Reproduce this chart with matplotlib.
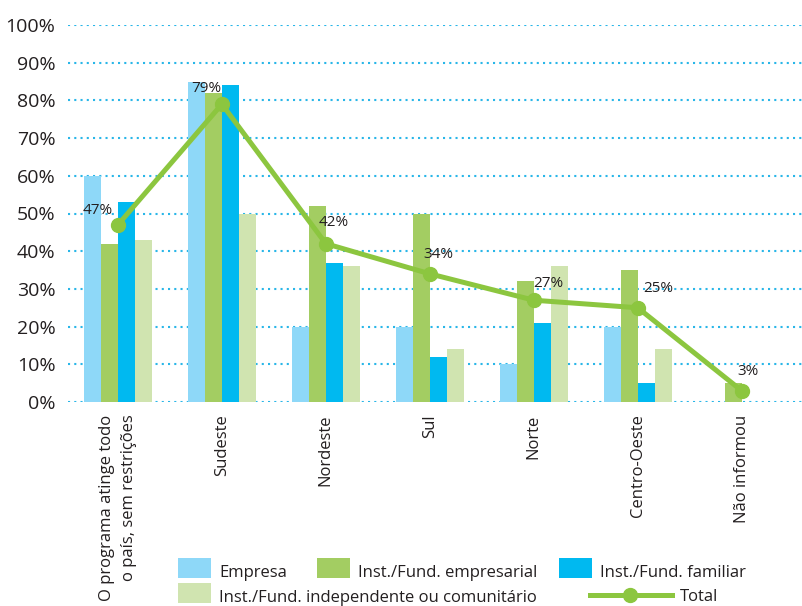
import numpy as np
import matplotlib
matplotlib.use("Agg")
import matplotlib.pyplot as plt
from matplotlib.patches import Rectangle
from matplotlib.lines import Line2D

plt.rcParams['font.family'] = ['Open Sans', 'DejaVu Sans']

regioes = ["O programa atinge todo\no país, sem restrições", "Sudeste", "Nordeste",
           "Sul", "Norte", "Centro-Oeste", "Não informou"]
empresa = [60, 85, 20, 20, 10, 20, 0]
inst_empresarial = [42, 82, 52, 50, 32, 35, 5]
inst_familiar = [53, 84, 37, 12, 21, 5, 0]
inst_independente = [43, 50, 36, 14, 36, 14, 0]
total = [47, 79, 42, 34, 27, 25, 3]

series = [
    ("Empresa", empresa, "#8ed8f8"),
    ("Inst./Fund. empresarial", inst_empresarial, "#a3cd62"),
    ("Inst./Fund. familiar", inst_familiar, "#00b9f0"),
    ("Inst./Fund. independente ou comunitário", inst_independente, "#d0e4b0"),
]
linha_cor = "#8cc63f"
texto_cor = "#231f20"

# label offsets (pixels) for the Total values
rot_off = [(-35, 14), (-31, 16), (-7, 21), (-6, 19), (-1, 17), (6, 19), (-4, 19)]

W, H = 802, 606
fig = plt.figure(figsize=(W / 100, H / 100), dpi=100)
ax = fig.add_axes([68 / W, 1 - 402 / H, (W - 68) / W, (402 - 25) / H])

x = np.arange(len(regioes))
bw = 0.163
for i, (nome, vals, cor) in enumerate(series):
    ax.bar(x + (i - 1.5) * bw, vals, bw, color=cor, linewidth=0, zorder=2)

ax.plot(x, total, color=linha_cor, lw=3.6, marker="o", ms=10, zorder=3, clip_on=False)
for xi, v, (dx, dy) in zip(x, total, rot_off):
    ax.annotate(f"{v}%", (xi, v), xytext=(dx, dy), textcoords="offset pixels",
                ha="left", va="center", fontsize=11, color=texto_cor, zorder=4)

ax.set_xlim(-0.48, 6.58)
ax.set_ylim(0, 100)
ax.set_yticks(range(0, 101, 10))
ax.set_yticklabels([f"{t}%" for t in range(0, 101, 10)], fontsize=14, color=texto_cor)
ax.set_xticks(x)
ax.set_xticklabels(regioes, rotation=90, fontsize=12, color=texto_cor,
                   va="top", ha="center", multialignment="right", linespacing=1.55)
ax.tick_params(axis="both", length=0)
ax.tick_params(axis="y", pad=9)
ax.tick_params(axis="x", pad=9)
ax.grid(axis="y", color="#29b6e8", lw=1.5, linestyle=(0, (1, 2)))
ax.set_axisbelow(True)
for s in ax.spines.values():
    s.set_visible(False)


def px(xp, yp):
    return xp / W, 1 - yp / H


# legend drawn in figure pixels
leg = [
    (178, 558, "Empresa", series[0][2]),
    (317, 558, "Inst./Fund. empresarial", series[1][2]),
    (559, 558, "Inst./Fund. familiar", series[2][2]),
    (178, 583, "Inst./Fund. independente ou comunitário", series[3][2]),
]
for lx, ly, txt, cor in leg:
    x0, y0 = px(lx, ly + 20)
    fig.patches.append(Rectangle((x0, y0), 33 / W, 20 / H, transform=fig.transFigure,
                                 facecolor=cor, edgecolor="none"))
    tx, ty = px(lx + 41, ly + 19)
    fig.text(tx, ty, txt, fontsize=12, color=texto_cor, ha="left", va="baseline")

lx0, ly0 = px(590, 595)
lx1, _ = px(672, 595)
fig.lines.append(Line2D([lx0, lx1], [ly0, ly0], transform=fig.transFigure,
                        color=linha_cor, lw=3.6))
mx, my = px(630, 595)
fig.lines.append(Line2D([mx], [my], transform=fig.transFigure, color=linha_cor,
                        marker="o", ms=10, lw=0))
tx, ty = px(680, 601)
fig.text(tx, ty, "Total", fontsize=12, color=texto_cor, ha="left", va="baseline")

fig.savefig("out.png", dpi=100)
